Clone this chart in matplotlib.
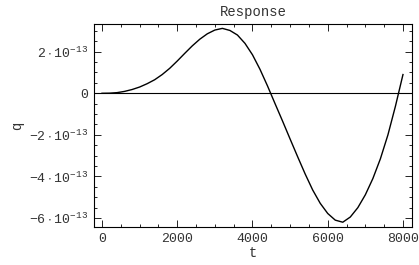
import numpy as np
import matplotlib
matplotlib.use('Agg')
import matplotlib.pyplot as plt
from matplotlib.ticker import MultipleLocator, FuncFormatter

# values (q in units of 1e-13)
t = list(range(0, 8001, 200))
q_e13 = [0.0, 0.005, 0.03, 0.09, 0.18, 0.3, 0.46, 0.65, 0.9, 1.2,
         1.55, 1.92, 2.28, 2.6, 2.86, 3.04, 3.12, 3.02, 2.8, 2.4,
         1.85, 1.15, 0.35, -0.5, -1.34, -2.2, -3.05, -3.88, -4.65, -5.29,
         -5.78, -6.1, -6.2, -5.95, -5.5, -4.88, -4.1, -3.15, -2.0, -0.62,
         0.9]

x_ticks = [0, 2000, 4000, 6000, 8000]
y_ticks = [-6e-13, -4e-13, -2e-13, 0, 2e-13]

q = np.array(q_e13) * 1e-13

plt.rcParams['font.family'] = ['Liberation Mono', 'DejaVu Sans Mono']
plt.rcParams['mathtext.default'] = 'regular'

fig = plt.figure(figsize=(4.19, 2.65), dpi=100)
ax = fig.add_axes([0.2243, 0.1434, 0.759, 0.766])

ax.plot(t, q, color='black', lw=1.0)
ax.axhline(0, color='black', lw=0.8)

ax.set_xlim(-213, 8240)
ax.set_ylim(-6.43e-13, 3.33e-13)

ax.set_xticks(x_ticks)
ax.set_yticks(y_ticks)
ax.xaxis.set_minor_locator(MultipleLocator(500))
ax.yaxis.set_minor_locator(MultipleLocator(0.5e-13))


def fmt_y(v, pos):
    n = int(round(v / 1e-13))
    if n == 0:
        return '0'
    return r'$%d\cdot10^{-13}$' % n


ax.yaxis.set_major_formatter(FuncFormatter(fmt_y))

ax.tick_params(which='both', direction='in', top=True, right=True,
               labelsize=9.5, width=0.6, pad=4, labelcolor='#333333')
ax.tick_params(which='major', length=5)
ax.tick_params(which='minor', length=2.5)

for s in ax.spines.values():
    s.set_linewidth(0.8)

ax.set_title('Response', fontsize=10, pad=6, color='#333333')
ax.set_xlabel('t', fontsize=10, labelpad=1, color='#333333')
ax.set_ylabel('q', fontsize=10, labelpad=4, color='#333333')

fig.savefig('out.png', dpi=100)
